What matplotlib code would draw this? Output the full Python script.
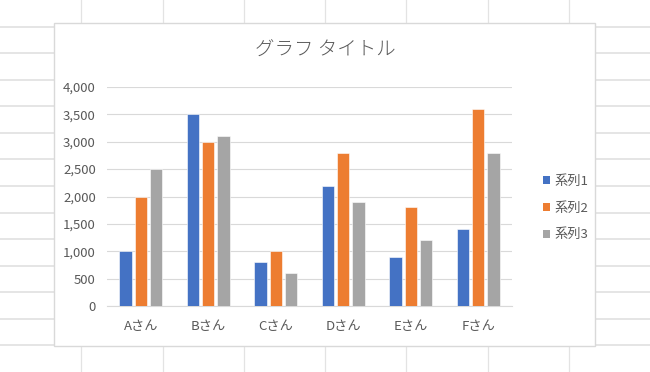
import numpy as np
import matplotlib
matplotlib.use('Agg')
import matplotlib.pyplot as plt
from matplotlib.patches import Rectangle, Patch
from matplotlib.lines import Line2D
import matplotlib.ticker as mticker

plt.rcParams['font.family'] = ['Noto Sans CJK JP', 'DejaVu Sans']

TITLE = 'グラフ タイトル'
CATEGORIES = ['Aさん', 'Bさん', 'Cさん', 'Dさん', 'Eさん', 'Fさん']
SERIES_NAMES = ['系列1', '系列2', '系列3']
SERIES1 = [1000, 3500, 800, 2200, 900, 1400]
SERIES2 = [2000, 3000, 1000, 2800, 1800, 3600]
SERIES3 = [2500, 3100, 600, 1900, 1200, 2800]
Y_TICKS = [0, 500, 1000, 1500, 2000, 2500, 3000, 3500, 4000]

COLORS = ['#4472C4', '#ED7D31', '#A5A5A5']
TEXT = '#595959'
W, H = 650, 372


def px(x, y):
    # pixel (from top-left) -> figure fraction
    return x / W, 1 - y / H


fig = plt.figure(figsize=(W / 100, H / 100), dpi=100, facecolor='white')

# spreadsheet cell grid behind the chart
cell_w, cell_h = W / 8, H / 14
for i in range(1, 8):
    fig.add_artist(Line2D([i * cell_w / W] * 2, [0, 1], transform=fig.transFigure,
                          color='#e3e3e3', lw=0.9, zorder=0))
for j in range(1, 14):
    fig.add_artist(Line2D([0, 1], [1 - j * cell_h / H] * 2, transform=fig.transFigure,
                          color='#e3e3e3', lw=1.3, zorder=0))

# chart box
x0, y0 = px(54, 346)
x1, y1 = px(595, 23)
fig.add_artist(Rectangle((x0, y0), x1 - x0, y1 - y0, transform=fig.transFigure,
                         facecolor='white', edgecolor='#d9d9d9', lw=1.0, zorder=1))

# plot area
ax_l, ax_b = px(107, 306)
ax_r, ax_t = px(512, 87)
ax = fig.add_axes([ax_l, ax_b, ax_r - ax_l, ax_t - ax_b], zorder=2)
ax.set_facecolor('none')

x = np.arange(len(CATEGORIES))
step = 0.225
bw = 0.18
for k, vals in enumerate([SERIES1, SERIES2, SERIES3]):
    ax.bar(x + (k - 1) * step, vals, width=bw, color=COLORS[k],
           edgecolor='white', linewidth=0.4, zorder=3, label=SERIES_NAMES[k])

ax.set_xlim(-0.5, len(CATEGORIES) - 0.5)
ax.set_ylim(0, 4000)
ax.set_yticks(Y_TICKS)
ax.yaxis.set_major_formatter(mticker.FuncFormatter(lambda v, _p: f'{v:,.0f}'))
ax.set_xticks(x)
ax.set_xticklabels(CATEGORIES)
ax.tick_params(axis='y', length=0, pad=8, labelsize=9.5, labelcolor=TEXT)
ax.tick_params(axis='x', length=0, pad=10, labelsize=9.5, labelcolor=TEXT)
ax.grid(axis='y', color='#d9d9d9', lw=0.8, zorder=0)
for s in ['top', 'right', 'left']:
    ax.spines[s].set_visible(False)
ax.spines['bottom'].set_color('#d9d9d9')
ax.spines['bottom'].set_linewidth(0.8)

tx, ty = px(325, 50)
fig.text(tx, ty, TITLE, ha='center', va='center', fontsize=14, color=TEXT,
         fontweight='light', zorder=3)

handles = [Patch(facecolor=c, edgecolor='none') for c in COLORS]
lx, ly = px(531, 208)
fig.legend(handles, SERIES_NAMES, loc='center left', bbox_to_anchor=(lx, ly),
           frameon=False, fontsize=9.5, labelcolor=TEXT, handlelength=0.55,
           handleheight=0.55, handletextpad=0.3, labelspacing=1.05)

fig.savefig('out.png', dpi=100, facecolor='white')
